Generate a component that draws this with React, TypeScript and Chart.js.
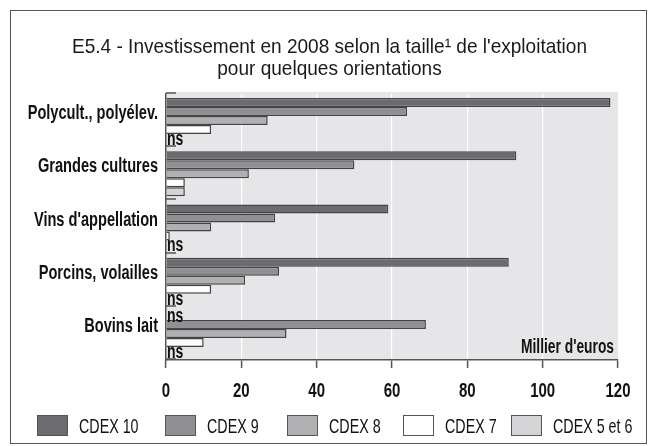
import React, { useEffect, useRef } from "react";
import { Chart, registerables } from "chart.js";

Chart.register(...registerables);

// ---- Data ----
const categories = [
  "Polycult., polyélev.",
  "Grandes cultures",
  "Vins d'appellation",
  "Porcins, volailles",
  "Bovins lait",
];
const seriesLabels = ["CDEX 10", "CDEX 9", "CDEX 8", "CDEX 7", "CDEX 5 et 6"];
const cdex10 = [118, 93, 59, 91, null];
const cdex9 = [64, 50, 29, 30, 69];
const cdex8 = [27, 22, 12, 21, 32];
const cdex7 = [12, 5, 1, 12, 10];
const cdex56 = [null, 5, null, null, null];
const xTicks = [0, 20, 40, 60, 80, 100, 120];
const titleLines = [
  "E5.4 - Investissement en 2008 selon la taille¹ de l'exploitation",
  "pour quelques orientations",
];
const unitLabel = "Millier d'euros";
const nsLabel = "ns";

// ---- Styles ----
const seriesColors = ["#6c6c70", "#909094", "#b0b0b3", "#ffffff", "#d4d4d6"];
const FONT = "'Liberation Sans', Arial, sans-serif";
const W = 635;
const H = 432;

function drawCondensed(
  ctx: CanvasRenderingContext2D,
  text: string,
  x: number,
  y: number,
  font: string,
  sx: number,
  align: CanvasTextAlign,
  baseline: CanvasTextBaseline = "middle"
) {
  ctx.save();
  ctx.font = font;
  ctx.textAlign = align;
  ctx.textBaseline = baseline;
  ctx.translate(x, y);
  ctx.scale(sx, 1);
  ctx.fillText(text, 0, 0);
  ctx.restore();
}

const decorPlugin = {
  id: "decor",
  beforeDraw(chart: any) {
    const { ctx, chartArea: a } = chart;
    ctx.save();
    ctx.fillStyle = "#e6e6e8";
    ctx.fillRect(a.left, a.top - 2, a.right - a.left, a.bottom - a.top + 2);
    ctx.restore();
  },
  afterDraw(chart: any) {
    const { ctx, chartArea: a } = chart;
    const xs = chart.scales.x;
    const ys = chart.scales.y;
    ctx.save();
    // inward ticks on category axis
    ctx.strokeStyle = "#555";
    ctx.lineWidth = 1.5;
    const n = categories.length;
    const band = (a.bottom - a.top) / n;
    for (let i = 0; i <= n; i++) {
      const yy = Math.round(a.top + band * i) - 1;
      ctx.beginPath();
      ctx.moveTo(a.left, yy);
      ctx.lineTo(a.left + 10, yy);
      ctx.stroke();
    }
    ctx.fillStyle = "#111";
    // category labels
    categories.forEach((c, i) => {
      const yy = ys.getPixelForValue(i) - 7;
      drawCondensed(ctx, c, a.left - 8, yy, `bold 20px ${FONT}`, 0.73, "right");
    });
    // x tick labels
    xTicks.forEach((v) => {
      const xx = xs.getPixelForValue(v);
      drawCondensed(ctx, String(v), xx, a.bottom + 31, `bold 20px ${FONT}`, 0.75, "center");
    });
    // "ns" labels for missing values
    chart.data.datasets.forEach((ds: any, d: number) => {
      const meta = chart.getDatasetMeta(d);
      ds.data.forEach((v: any, i: number) => {
        if (v === null) {
          const el: any = meta.data[i];
          if (el && isFinite(el.y)) {
            drawCondensed(ctx, nsLabel, a.left + 1, el.y + 1, `bold 20px ${FONT}`, 0.7, "left");
          }
        }
      });
    });
    // unit label
    drawCondensed(ctx, unitLabel, a.right - 4, a.bottom - 13, `bold 20px ${FONT}`, 0.69, "right");
    // title
    ctx.fillStyle = "#1a1a1a";
    const tFont = `21px ${FONT}`;
    ctx.font = tFont;
    const tw = ctx.measureText(titleLines[0]).width;
    const tsx = 515 / tw;
    drawCondensed(ctx, titleLines[0], W / 2 + 1, 42, tFont, tsx, "center", "alphabetic");
    drawCondensed(ctx, titleLines[1], W / 2 + 1, 64, tFont, tsx, "center", "alphabetic");
    // legend
    const boxX = [26, 154, 276, 392, 500];
    const boxY = 404;
    seriesLabels.forEach((lab, k) => {
      ctx.fillStyle = seriesColors[k];
      ctx.fillRect(boxX[k], boxY, 31, 21);
      ctx.strokeStyle = "#555";
      ctx.lineWidth = 1;
      ctx.strokeRect(boxX[k] + 0.5, boxY + 0.5, 30, 20);
      ctx.fillStyle = "#111";
      drawCondensed(ctx, lab, boxX[k] + 42, boxY + 12, `21px ${FONT}`, 0.68, "left");
    });
    ctx.restore();
  },
};

export default function App() {
  const ref = useRef<HTMLCanvasElement | null>(null);

  useEffect(() => {
    if (!ref.current) return;
    const series = [cdex10, cdex9, cdex8, cdex7, cdex56];
    const chart = new Chart(ref.current, {
      type: "bar",
      data: {
        labels: categories,
        datasets: series.map((s, k) => ({
          label: seriesLabels[k],
          data: s as any,
          backgroundColor: seriesColors[k],
          borderColor: "#444",
          borderWidth: 1.5,
          categoryPercentage: 0.845,
          barPercentage: 1.0,
        })),
      },
      options: {
        indexAxis: "y",
        animation: false,
        responsive: false,
        devicePixelRatio: 1,
        layout: { padding: { left: 0, right: 28, top: 83, bottom: 43 } },
        plugins: {
          legend: { display: false },
          title: { display: false },
          tooltip: { enabled: false },
        },
        scales: {
          x: {
            type: "linear",
            min: 0,
            max: 120,
            afterBuildTicks: (s: any) => {
              s.ticks = xTicks.map((v) => ({ value: v }));
            },
            afterFit: (s: any) => {
              s.height = 40;
            },
            ticks: { display: false },
            grid: {
              color: (c: any) =>
                c.tick && (c.tick.value === 0 || c.tick.value === 120)
                  ? "rgba(0,0,0,0)"
                  : "#ffffff",
              lineWidth: 1.2,
              tickColor: "#555",
              tickLength: 8,
              tickWidth: 1.5,
            },
            border: { color: "#555", width: 1.5 },
          },
          y: {
            type: "category",
            afterFit: (s: any) => {
              s.width = 155;
            },
            ticks: { display: false },
            grid: { display: true, drawOnChartArea: false, drawTicks: false },
            border: { color: "#555", width: 1.5 },
          },
        },
      } as any,
      plugins: [decorPlugin],
    });
    return () => chart.destroy();
  }, []);

  return (
    <div
      style={{
        position: "fixed",
        left: 10,
        top: 10,
        width: 637,
        height: 434,
        border: "1px solid #555",
        boxSizing: "border-box",
        background: "#fff",
      }}
    >
      <canvas ref={ref} width={W} height={H} style={{ width: W, height: H, display: "block" }} />
    </div>
  );
}
